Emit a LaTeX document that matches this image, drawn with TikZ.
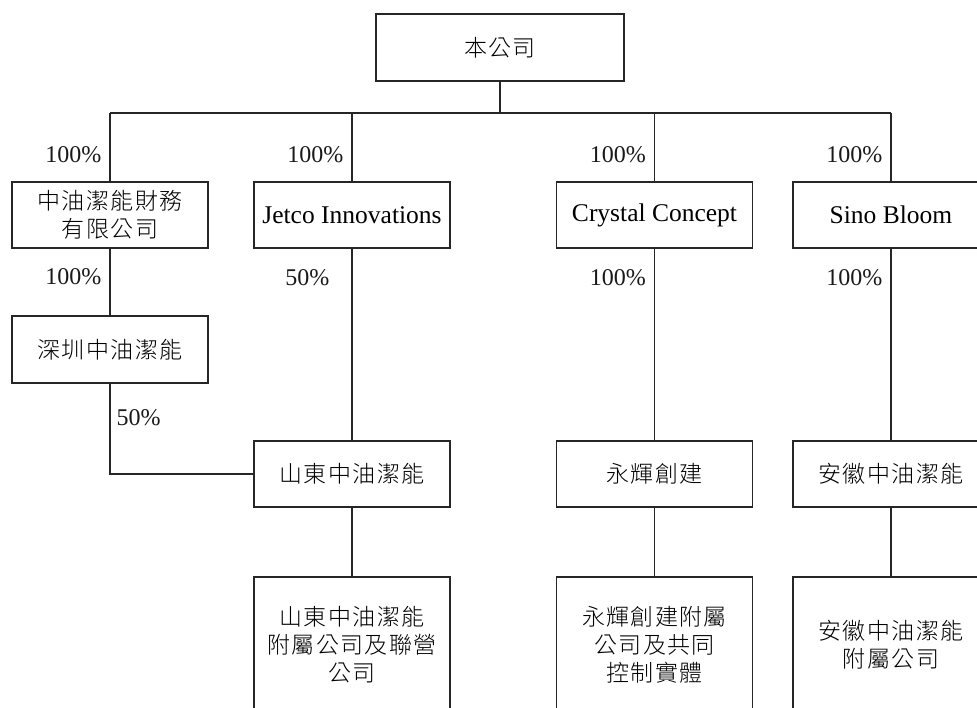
\documentclass[tikz,border=0pt]{standalone}
\usepackage{fontspec}
\setmainfont{Liberation Serif}
\newfontfamily\cjk[LetterSpace=6]{Noto Sans CJK TC Light}
\usepackage{tikz}
\usetikzlibrary{positioning}

\begin{document}
\begin{tikzpicture}[x=1pt, y=-1pt,
    box/.style={draw=black!85, line width=1.3pt, minimum width=196pt,
      minimum height=66pt, inner sep=0pt, align=center,
      font=\fontsize{25.5}{28}\selectfont},
    cbox/.style={box, font=\cjk\fontsize{23}{28}\selectfont},
    link/.style={draw=black!85, line width=1.3pt},
    pct/.style={inner sep=0pt, text=black!90, font=\fontsize{24}{28}\selectfont}]
    \def \rowa {215}   % first row of boxes
    \def \rowb {474}   % second row of boxes
    \def \rowc {645}   % last row, cut by the page
    \useasboundingbox (0,0) rectangle (977,707);

    \node[cbox, minimum width=248pt, minimum height=67pt] (top) at (500,47.5) {本公司};
    \coordinate (bus) at (500,113);

    % companies held in full
    \node[cbox] (fin) at (110,\rowa) {中油潔能財務\\有限公司};
    \node[box] (jetco) at (352,\rowa) {Jetco Innovations};
    \node[box] (crystal) at (654.5,\rowa) {Crystal Concept};
    \node[box] (sino) at (891,\rowa) {Sino Bloom};

    \node[cbox, minimum height=67pt] (sz) at (110,349.5) {深圳中油潔能};

    \node[cbox] (sd) at (352,\rowb) {山東中油潔能};
    \node[cbox] (yh) at (654.5,\rowb) {永輝創建};
    \node[cbox] (ah) at (891,\rowb) {安徽中油潔能};

    \node[cbox, minimum height=136pt] (sdsub) at (352,\rowc) {山東中油潔能\\附屬公司及聯營\\公司};
    \node[cbox, minimum height=136pt] (yhsub) at (654.5,\rowc) {永輝創建附屬\\公司及共同\\控制實體};
    \node[cbox, minimum height=136pt] (ahsub) at (891,\rowc) {安徽中油潔能\\附屬公司};

    \draw[link] (top.south) -- (bus);
    \draw[link] (fin.north |- bus) -- (sino.north |- bus);
    \foreach \n in {fin,jetco,crystal,sino}
      \draw[link] (\n.north) -- node[pct, left=8pt, pos=.39] (p-\n) {100\%} (\n.north |- bus);

    \draw[link] (fin.south) -- node[pct, left=8pt, pos=.42] (p-sz) {100\%} (sz.north);
    \draw[link] (jetco.south) -- node[pct, left=22pt, pos=.15] (p-sd) {50\%} (sd.north);
    \draw[link] (crystal.south) -- node[pct, left=8pt, pos=.15] (p-yh) {100\%} (yh.north);
    \draw[link] (sino.south) -- node[pct, left=8pt, pos=.15] (p-ah) {100\%} (ah.north);
    \draw[link] (sz.south) |- node[pct, right=6pt, pos=.19] (p-szsd) {50\%} (sd.west);

    \draw[link] (sd.south) -- (sdsub.north);
    \draw[link] (yh.south) -- (yhsub.north);
    \draw[link] (ah.south) -- (ahsub.north);
\end{tikzpicture}
\end{document}
